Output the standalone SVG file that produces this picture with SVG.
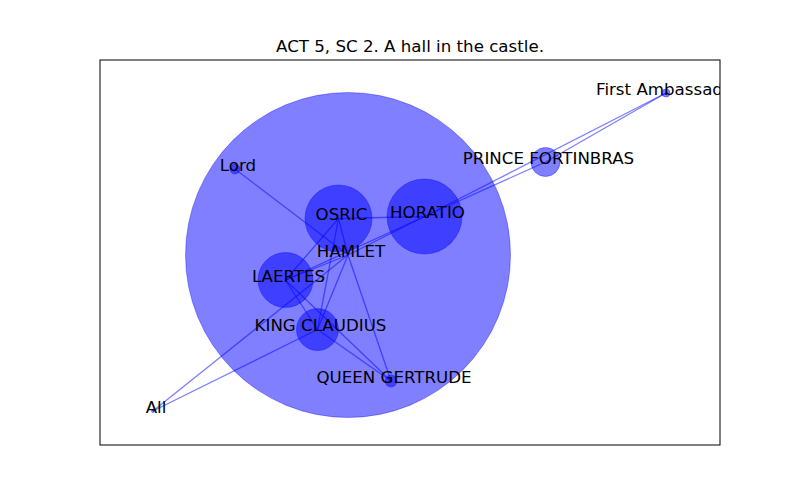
<svg xmlns="http://www.w3.org/2000/svg" width="800" height="500" viewBox="0 0 800 500">
<style>
.e{stroke:#0000ff;stroke-opacity:0.5;stroke-width:1.3;fill:none}
.n{fill:#0000ff;fill-opacity:0.5;stroke:#0000ff;stroke-opacity:0.35;stroke-width:1}
.l{font-family:"DejaVu Sans",sans-serif;font-size:16.67px;fill:#000;text-anchor:middle}
</style>
<defs><clipPath id="ax"><rect x="100" y="60" width="620" height="385"/></clipPath></defs>
<rect width="800" height="500" fill="#fff"/>
<text x="410" y="52" class="l">ACT 5, SC 2. A hall in the castle.</text>
<g id="edges" clip-path="url(#ax)">
<line class="e" x1="348" y1="255" x2="235" y2="169"/>
<line class="e" x1="348" y1="255" x2="338.5" y2="218.5"/>
<line class="e" x1="348" y1="255" x2="424.5" y2="216.5"/>
<line class="e" x1="348" y1="255" x2="285.5" y2="280"/>
<line class="e" x1="348" y1="255" x2="317.5" y2="329.5"/>
<line class="e" x1="348" y1="255" x2="391" y2="381"/>
<line class="e" x1="348" y1="255" x2="153" y2="411"/>
<line class="e" x1="338.5" y1="218.5" x2="424.5" y2="216.5"/>
<line class="e" x1="338.5" y1="218.5" x2="285.5" y2="280"/>
<line class="e" x1="338.5" y1="218.5" x2="317.5" y2="329.5"/>
<line class="e" x1="285.5" y1="280" x2="317.5" y2="329.5"/>
<line class="e" x1="285.5" y1="280" x2="391" y2="381"/>
<line class="e" x1="285.5" y1="280" x2="424.5" y2="216.5"/>
<line class="e" x1="317.5" y1="329.5" x2="391" y2="381"/>
<line class="e" x1="317.5" y1="329.5" x2="153" y2="411"/>
<line class="e" x1="424.5" y1="216.5" x2="666" y2="93"/>
<line class="e" x1="424.5" y1="216.5" x2="545.5" y2="162"/>
<line class="e" x1="545.5" y1="162" x2="666" y2="93"/>
</g>
<g id="HAMLET"><circle class="n" cx="348" cy="255" r="162.5"/></g>
<g id="OSRIC"><circle class="n" cx="338.5" cy="218.5" r="33.5"/></g>
<g id="HORATIO"><circle class="n" cx="424.5" cy="216.5" r="37.5"/></g>
<g id="LAERTES"><circle class="n" cx="285.5" cy="280" r="27.5"/></g>
<g id="KING_CLAUDIUS"><circle class="n" cx="317.5" cy="329.5" r="21"/></g>
<g id="QUEEN_GERTRUDE"><circle class="n" cx="391" cy="381" r="6"/></g>
<g id="PRINCE_FORTINBRAS"><circle class="n" cx="545.5" cy="162" r="14.5"/></g>
<g id="First_Ambassador"><circle class="n" cx="666" cy="93" r="4"/></g>
<g id="Lord"><circle class="n" cx="235" cy="169" r="5"/></g>
<g id="All"><circle class="n" cx="153" cy="411" r="1.5"/></g>
<g id="labels" clip-path="url(#ax)">
<text class="l" x="351" y="256.5">HAMLET</text>
<text class="l" x="341.5" y="220">OSRIC</text>
<text class="l" x="427.5" y="218">HORATIO</text>
<text class="l" x="288.5" y="281.5">LAERTES</text>
<text class="l" x="320.5" y="331">KING CLAUDIUS</text>
<text class="l" x="394" y="382.5">QUEEN GERTRUDE</text>
<text class="l" x="548.5" y="163.5">PRINCE FORTINBRAS</text>
<text class="l" x="668" y="94.5">First Ambassador</text>
<text class="l" x="238" y="170.5">Lord</text>
<text class="l" x="156" y="412.5">All</text>
</g>
<rect x="100" y="60" width="620" height="385" fill="none" stroke="#000" stroke-width="1"/>
</svg>
